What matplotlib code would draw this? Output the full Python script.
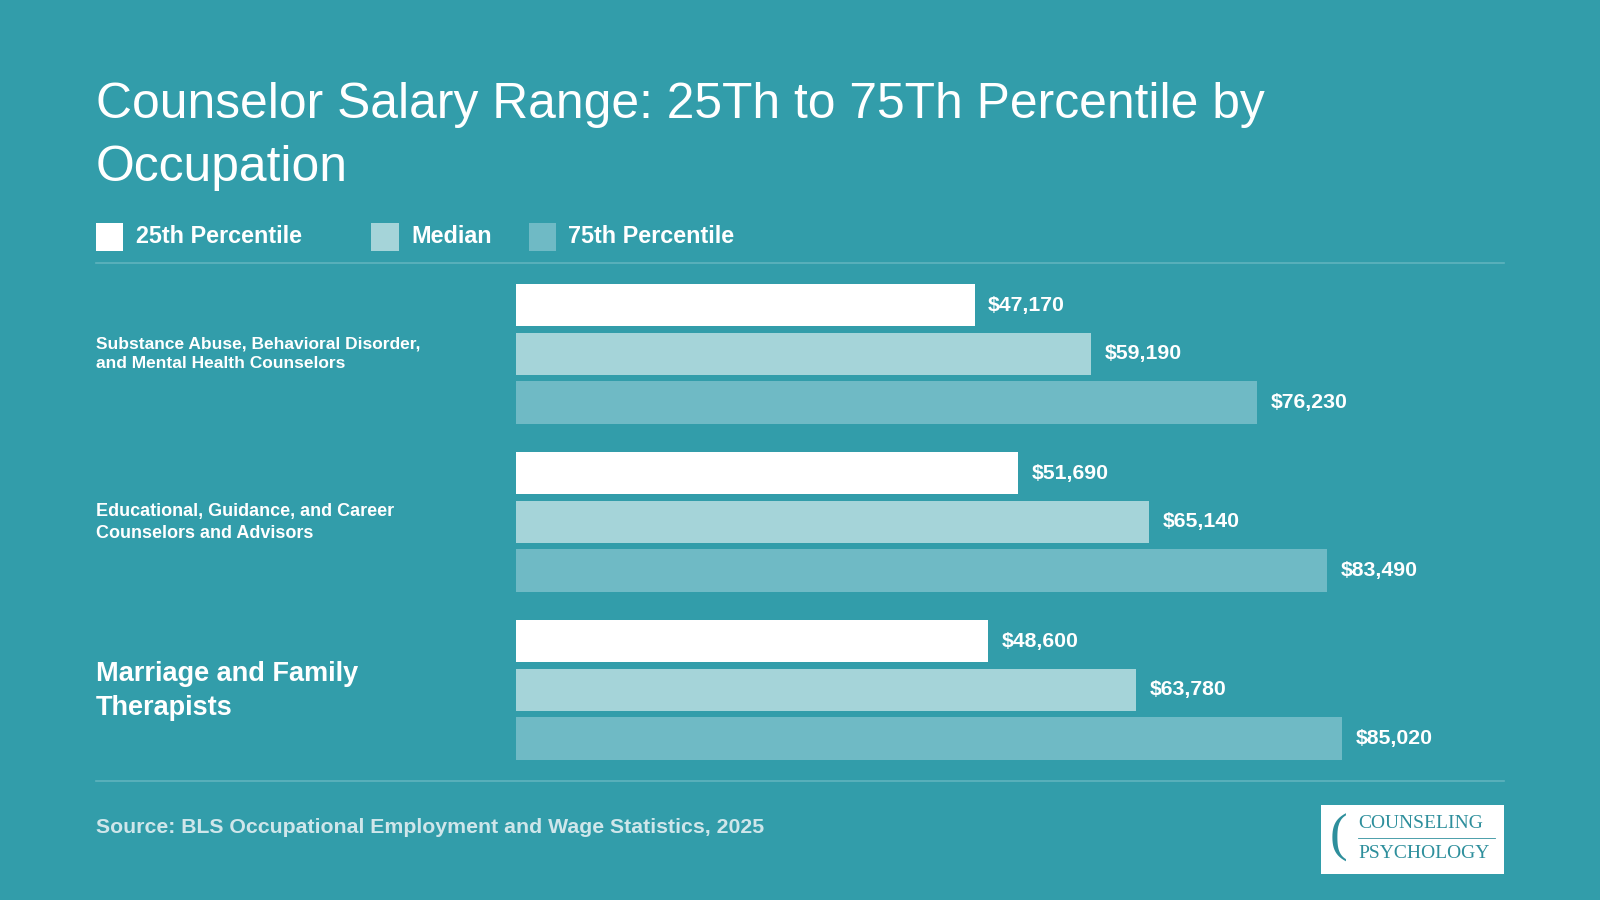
import matplotlib.pyplot as plt
from matplotlib.patches import Rectangle

plt.rcParams['font.family'] = ['Liberation Sans', 'DejaVu Sans']

occupations = ["Substance Abuse, Behavioral Disorder,\nand Mental Health Counselors",
               "Educational, Guidance, and Career\nCounselors and Advisors",
               "Marriage and Family\nTherapists"]
label_sizes = [12.5, 13, 19.5]
series = ["25th Percentile", "Median", "75th Percentile"]
values = [[47170, 59190, 76230],
          [51690, 65140, 83490],
          [48600, 63780, 85020]]

BG = '#329DAA'
colors = ['#FFFFFF', '#A5D4D9', '#6FBAC5']
W, H = 1568, 882  # reference pixel grid


def fx(px): return px / W
def fy(py): return 1 - py / H


fig = plt.figure(figsize=(16, 9), dpi=100, facecolor=BG)

fig.text(fx(94), fy(103), "Counselor Salary Range: 25Th to 75Th Percentile by",
         color='white', fontsize=35.8, va='center')
fig.text(fx(94), fy(165), "Occupation", color='white', fontsize=35.8, va='center')

# legend
lx = [94, 364, 518]
for x, name, c in zip(lx, series, colors):
    fig.patches.append(Rectangle((fx(x), fy(246)), fx(27), 27 / H, transform=fig.transFigure,
                                 facecolor=c, edgecolor='none'))
    fig.text(fx(x + 39), fy(232), name, color='white', fontsize=16.8, fontweight='bold', va='center')

for yy in (258, 765):
    fig.add_artist(plt.Line2D([fx(94), fx(1474)], [fy(yy), fy(yy)], color='#5FB3BE', lw=1.2))

ax = fig.add_axes([fx(506), fy(745), fx(1474 - 506), (745 - 278) / H])
ax.set_facecolor('none')
gap = 165 / 48
for i, vals in enumerate(values):
    for j, v in enumerate(vals):
        y = i * gap + j
        ax.barh(y, v, height=0.875, color=colors[j])
        ax.text(v + 1400, y, f"${v:,}", color='white', fontsize=15.3, fontweight='bold', va='center')
ax.set_xlim(0, 101680)
ax.set_ylim(2 * gap + 2 + 0.4375, -0.4375)
ax.axis('off')

label_y = [347, 512, 677]
for name, yy, fs in zip(occupations, label_y, label_sizes):
    fig.text(fx(94), fy(yy), name, color='white', fontsize=fs, fontweight='bold',
             va='center', linespacing=1.4)

fig.text(fx(94), fy(811), "Source: BLS Occupational Employment and Wage Statistics, 2025",
         color='#CFE6EA', fontsize=15.3, fontweight='bold', va='center')

# logo
fig.patches.append(Rectangle((fx(1295), fy(857)), fx(179), 68 / H, transform=fig.transFigure,
                             facecolor='white', edgecolor='none'))
fig.text(fx(1331), fy(807), "COUNSELING", color='#2E8F9C', fontsize=14, family='Liberation Serif',
         va='center', stretch='condensed')
fig.text(fx(1331), fy(836), "PSYCHOLOGY", color='#2E8F9C', fontsize=14, family='Liberation Serif',
         va='center')
fig.add_artist(plt.Line2D([fx(1331), fx(1465)], [fy(821), fy(821)], color='#2E8F9C', lw=0.6))
fig.text(fx(1303), fy(821), "(", color='#2E8F9C', fontsize=38, family='Liberation Serif', va='center')

fig.savefig('out.png', dpi=100, facecolor=BG)
